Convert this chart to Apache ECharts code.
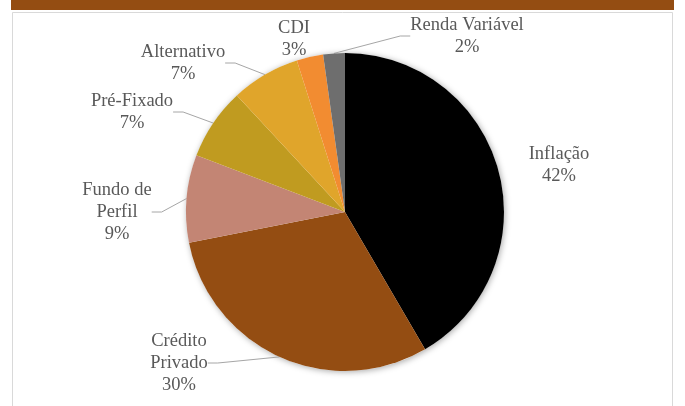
<!DOCTYPE html>
<html>
<head>
<meta charset="utf-8">
<script src="https://cdn.jsdelivr.net/npm/echarts@6/dist/echarts.min.js"></script>
<style>
html,body{margin:0;padding:0;background:#fff;}
#c{width:685px;height:406px;}
</style>
</head>
<body>
<div id="c"></div>
<script>
// Data
var categories = ['Inflação', 'Crédito Privado', 'Fundo de Perfil', 'Pré-Fixado', 'Alternativo', 'CDI', 'Renda Variável'];
var values = [41.6, 30.3, 8.9, 7.3, 7.0, 2.7, 2.2];
var colors = ['#000000', '#944D12', '#C38574', '#C09B20', '#E0A52B', '#F28C31', '#6E6E6E'];

// Styling (label placement, wrapped names)
var wrapped = {'Crédito Privado': 'Crédito\nPrivado', 'Fundo de Perfil': 'Fundo de\nPerfil'};
var labelPos = [[559, 165], [179, 363], [117, 212], [132, 112], [183, 63], [294, 39], [467, 36]];
var noLine = {'Inflação': true, 'CDI': true};
var FONT = 'Liberation Serif';
var FSIZE = 18.5;

var chart = echarts.init(document.getElementById('c'));
var data = categories.map(function (n, i) {
  var d = {name: n, value: values[i], itemStyle: {color: colors[i]}};
  if (noLine[n]) d.labelLine = {show: false};
  return d;
});

chart.setOption({
  animation: false,
  textStyle: {fontFamily: FONT},
  graphic: [
    {type: 'rect', shape: {x: 12.5, y: 12.5, width: 660, height: 400}, style: {fill: '#fff', stroke: '#D9D9D9', lineWidth: 1}, z: -10},
    {type: 'rect', shape: {x: 11, y: 0, width: 663, height: 10}, style: {fill: '#944D12'}, z: -9}
  ],
  series: [
    {
      type: 'pie',
      silent: true,
      center: [345, 212],
      radius: [0, 159],
      data: [{value: 1, name: '', itemStyle: {color: '#fff'}}],
      label: {show: false},
      labelLine: {show: false},
      itemStyle: {shadowBlur: 6, shadowColor: 'rgba(0,0,0,0.35)', shadowOffsetX: 1, shadowOffsetY: 1},
      z: 1
    },
    {
      type: 'pie',
      center: [345, 212],
      radius: [0, 159],
      startAngle: 90,
      clockwise: true,
      data: data,
      z: 2,
      label: {
        show: true,
        position: 'outside',
        fontFamily: FONT,
        fontSize: FSIZE,
        lineHeight: 22,
        color: '#595959',
        formatter: function (p) {
          return (wrapped[p.name] || p.name) + '\n' + Math.round(p.percent) + '%';
        }
      },
      labelLine: {show: true, lineStyle: {color: '#A6A6A6', width: 1}, length: 10, length2: 10},
      labelLayout: function (params) {
        var pos = labelPos[params.dataIndex];
        return {x: pos[0], y: pos[1], align: 'center', verticalAlign: 'middle'};
      }
    }
  ]
});

// Make sure the labels keep the serif family after the label layout pass
function fixFonts() {
  try {
    var sData = chart.getModel().getSeriesByIndex(1).getData();
    for (var i = 0; i < sData.count(); i++) {
      var el = sData.getItemGraphicEl(i);
      var t = el && el.getTextContent && el.getTextContent();
      if (t) {
        t.setStyle({fontFamily: FONT, fontSize: FSIZE, fontStyle: 'normal', fontWeight: 'normal'});
      }
    }
    chart.getZr().refreshImmediately();
  } catch (e) {}
}
fixFonts();
</script>
</body>
</html>
